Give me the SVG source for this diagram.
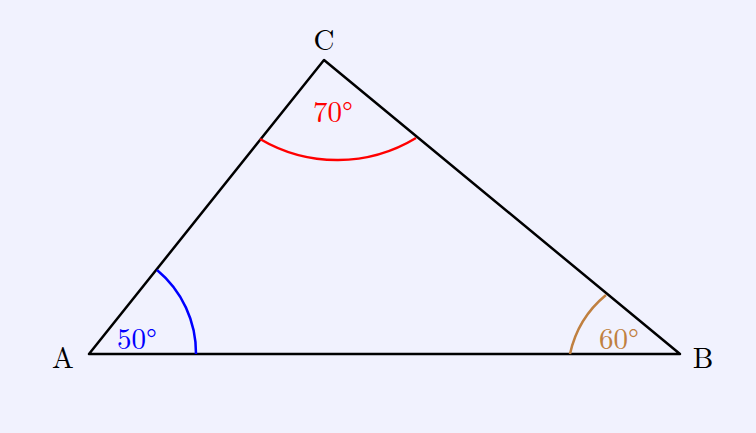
<svg xmlns="http://www.w3.org/2000/svg" width="756" height="433" viewBox="0 0 756 433">
<style>
text{font-family:"Latin Modern Roman","Liberation Serif",serif;font-size:29px;text-anchor:middle;dominant-baseline:central}
.arc{fill:none;stroke-width:2.5}
</style>
<rect width="756" height="433" fill="#f1f2fe"/>
<g id="connectors">
<polygon points="89,354 680,354 324,60" fill="none" stroke="#000" stroke-width="2.5" stroke-linejoin="round"/>
</g>
<g id="angleA"><path class="arc" stroke="#0000ff" d="M196,354 A108,108 0 0 0 157,270"/><text x="137" y="336" fill="#0000ff">50°</text></g>
<g id="angleB"><path class="arc" stroke="#c08040" d="M570,354 A105,105 0 0 1 606,295"/><text x="619" y="336" fill="#c08040">60°</text></g>
<g id="angleC"><path class="arc" stroke="#ff0000" d="M260,139 A152,152 0 0 0 416,138"/><text x="333" y="109" fill="#ff0000">70°</text></g>
<g id="A"><text x="63" y="355">A</text></g>
<g id="B"><text x="703" y="355">B</text></g>
<g id="C"><text x="324" y="37">C</text></g>
</svg>
